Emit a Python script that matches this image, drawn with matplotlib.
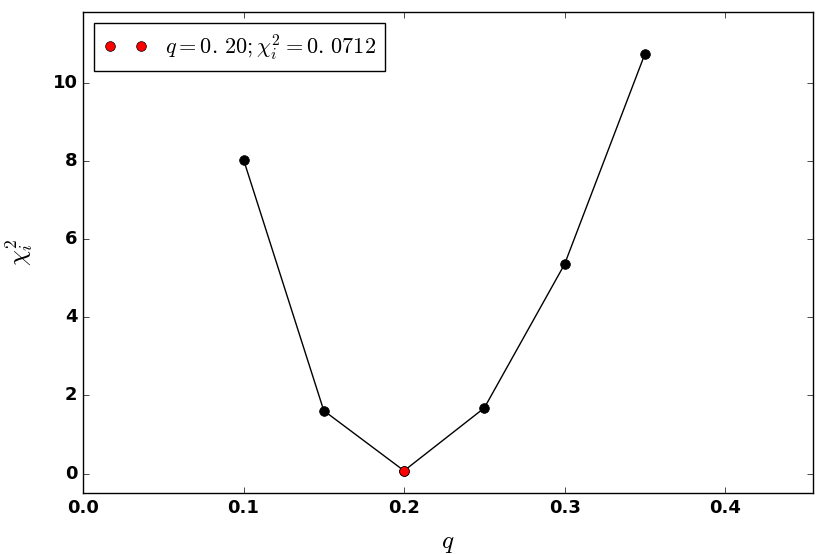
import matplotlib

matplotlib.use("Agg")
import matplotlib.pyplot as plt

q_vals = [0.10, 0.15, 0.20, 0.25, 0.30, 0.35]
chi2_vals = [8.04, 1.61, 0.0712, 1.68, 5.36, 10.74]
best_q = 0.20
best_chi2 = 0.0712

plt.style.use("classic")
plt.rcParams["mathtext.fontset"] = "cm"
plt.rcParams["font.weight"] = "bold"
plt.rcParams["font.size"] = 13

fig = plt.figure(figsize=(8.3, 5.54), dpi=100)
ax = fig.add_axes([0.1, 0.11, 0.88, 0.868])
ax.plot(q_vals, chi2_vals, "k-o", markersize=7, lw=1)
ax.plot([best_q], [best_chi2], "ro", markersize=7,
        label=r"$q=0.\,20;\chi_i^2=0.\,0712$")
ax.set_xlim(0, max(q_vals) * 1.3)
ax.set_ylim(-0.5, max(chi2_vals) * 1.1)
ax.set_xlabel(r"$q$", fontsize=18, labelpad=10)
ax.set_ylabel(r"$\chi_i^2$", fontsize=18, labelpad=12)
ax.legend(loc="upper left", numpoints=2, prop={"size": 16})

fig.savefig("out.png", dpi=100)
